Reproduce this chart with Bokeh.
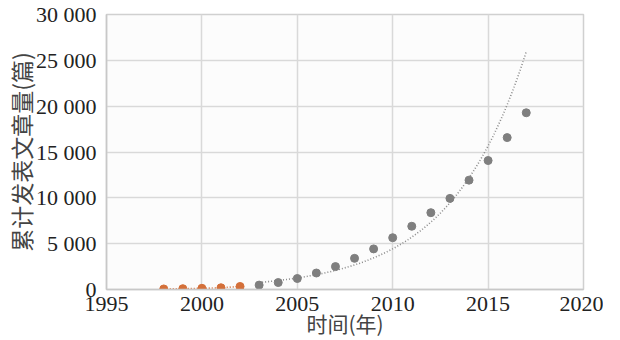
import numpy as np
from bokeh.plotting import figure
from bokeh.models import Range1d, FixedTicker, CustomJSTickFormatter
from bokeh.embed import file_html
from bokeh.resources import INLINE

years_early = [1998, 1999, 2000, 2001, 2002]
counts_early = [60, 90, 130, 190, 330]
years_late = [2003, 2004, 2005, 2006, 2007, 2008, 2009, 2010, 2011, 2012, 2013, 2014, 2015, 2016, 2017]
counts_late = [480, 760, 1200, 1800, 2500, 3400, 4430, 5650, 6900, 8380, 9940, 11930, 14070, 16570, 19280]
x_ticks = [1995, 2000, 2005, 2010, 2015, 2020]
y_ticks = [0, 5000, 10000, 15000, 20000, 25000, 30000]

# exponential trendline fitted to the later series
b, a = np.polyfit(np.array(years_late, float), np.log(np.array(counts_late, float)), 1)
trend_x = np.linspace(years_late[0], years_late[-1], 200)
trend_y = np.exp(a + b * trend_x)

p = figure(frame_width=477, frame_height=275, output_backend="svg", toolbar_location=None,
           x_range=Range1d(1995, 2020), y_range=Range1d(0, 30000),
           min_border_left=80, min_border_right=20, min_border_top=14, min_border_bottom=5)

p.line(trend_x, trend_y, line_color="#8c8c8c", line_width=1.6, line_dash="1 2")
p.line(years_early, counts_early, line_color="#d4703a", line_width=1.6, line_dash="1 2")
p.scatter(years_late, counts_late, size=8, color="#7f7f7f")
p.scatter(years_early, counts_early, size=8, color="#d4703a")

fmt = CustomJSTickFormatter(code="return tick.toString().replace(/\\B(?=(\\d{3})+(?!\\d))/g, ' ');")
p.xaxis.ticker = FixedTicker(ticks=x_ticks)
p.yaxis.ticker = FixedTicker(ticks=y_ticks)
p.yaxis.formatter = fmt

for ax in (p.xaxis[0], p.yaxis[0]):
    ax.major_label_text_font = "Liberation Serif"
    ax.major_label_text_font_size = "22px"
    ax.major_label_text_color = "#222222"
    ax.axis_line_color = "#c8c8c8"
    ax.axis_line_width = 1.5
    ax.major_tick_line_color = None
    ax.minor_tick_line_color = None
    ax.major_tick_out = 0
    ax.major_tick_in = 0
    ax.axis_label_text_font = "Noto Sans CJK SC"
    ax.axis_label_text_font_style = "normal"
    ax.axis_label_text_font_size = "21px"
    ax.axis_label_text_color = "#444444"

p.xaxis.major_label_standoff = 7
p.yaxis.major_label_standoff = 10
p.xaxis.axis_label = "时间(年)"
p.yaxis.axis_label = "累计发表文章量(篇)"
p.xaxis.axis_label_standoff = -6
p.yaxis.axis_label_standoff = -5
p.yaxis.axis_label_text_font_size = "23px"

p.grid.grid_line_color = "#d9d9d9"
p.grid.grid_line_width = 1.5
p.outline_line_color = "#d0d0d0"
p.outline_line_width = 1.5
p.background_fill_color = "#fcfcfc"

open("out.html", "w").write(file_html(p, INLINE))
